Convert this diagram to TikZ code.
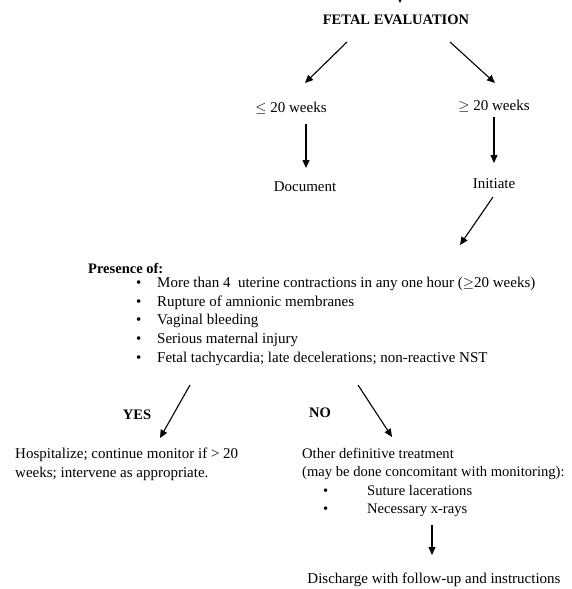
\documentclass[tikz,border=0pt]{standalone}
\usepackage{fontspec}
\setmainfont{Liberation Serif}
\usetikzlibrary{arrows.meta, positioning}

\begin{document}
\begin{tikzpicture}[
    x=1pt, y=-1pt,
    font=\fontsize{15}{18.6}\selectfont,
    txt/.style={inner sep=0pt, align=left},
    head/.style={txt, font=\fontsize{14.5}{18.6}\selectfont\bfseries},
    arrow/.style={-{Triangle[length=8pt,width=7pt]}, line width=1.1pt, draw=black}
]
\useasboundingbox (0,0) rectangle (571,589);

\node[head] (title) at (396,20) {FETAL EVALUATION};
\coordinate (above) at (400,-30);

\node[txt] (less) at (291,108) {$\le$ 20 weeks};
\node[txt] (more) at (494,106) {$\ge$ 20 weeks};
\node[txt] (doc) at (305,187) {Document};
\node[txt] (init) at (494,184) {Initiate};

\node[head, anchor=west] (pres) at (88,268) {Presence of:};
\node[txt, anchor=north west] (crit) at (136,277) {%
    \makebox[21pt][l]{\textbullet}More than 4\ \ uterine contractions in any one hour ($\ge$20 weeks)\\
    \makebox[21pt][l]{\textbullet}Rupture of amnionic membranes\\
    \makebox[21pt][l]{\textbullet}Vaginal bleeding\\
    \makebox[21pt][l]{\textbullet}Serious maternal injury\\
    \makebox[21pt][l]{\textbullet}Fetal tachycardia; late decelerations; non-reactive NST};

\node[head] (yes) at (137,415) {YES};
\node[head] (no) at (320,413) {NO};

\node[txt, anchor=north west] (hosp) at (15,448) {Hospitalize; continue monitor if > 20\\
    weeks; intervene as appropriate.};
\node[txt, anchor=north west, font=\fontsize{14.6}{18.4}\selectfont] (other) at (302,448) {Other definitive treatment\\
    (may be done concomitant with monitoring):\\
    \hspace*{21pt}\makebox[44pt][l]{\textbullet}Suture lacerations\\
    \hspace*{21pt}\makebox[44pt][l]{\textbullet}Necessary x-rays};
\node[txt] (disch) at (434,580) {Discharge with follow-up and instructions};

\draw[arrow] (above) -- ([shift={(4,-17)}]title.center);
\draw[arrow] ([shift={(-49,22)}]title.center) -- ([shift={(14,-25)}]less.center);
\draw[arrow] ([shift={(54,22)}]title.center) -- ([shift={(1,-23)}]more.center);
\draw[arrow] ([shift={(15,16)}]less.center) -- ([shift={(1,-19)}]doc.center);
\draw[arrow] ([shift={(0,11)}]more.center) -- ([shift={(0,-21)}]init.center);
\draw[arrow] ([shift={(-1,13)}]init.center) -- ([shift={(324,-32)}]crit.north west);
\draw[arrow] ([shift={(54,108)}]crit.north west) -- ([shift={(145,-10)}]hosp.north west);
\draw[arrow] ([shift={(222,108)}]crit.north west) -- ([shift={(90,-11)}]other.north west);
\draw[arrow] ([shift={(130,77)}]other.north west) -- ([shift={(-2,-25)}]disch.center);

\end{tikzpicture}
\end{document}
